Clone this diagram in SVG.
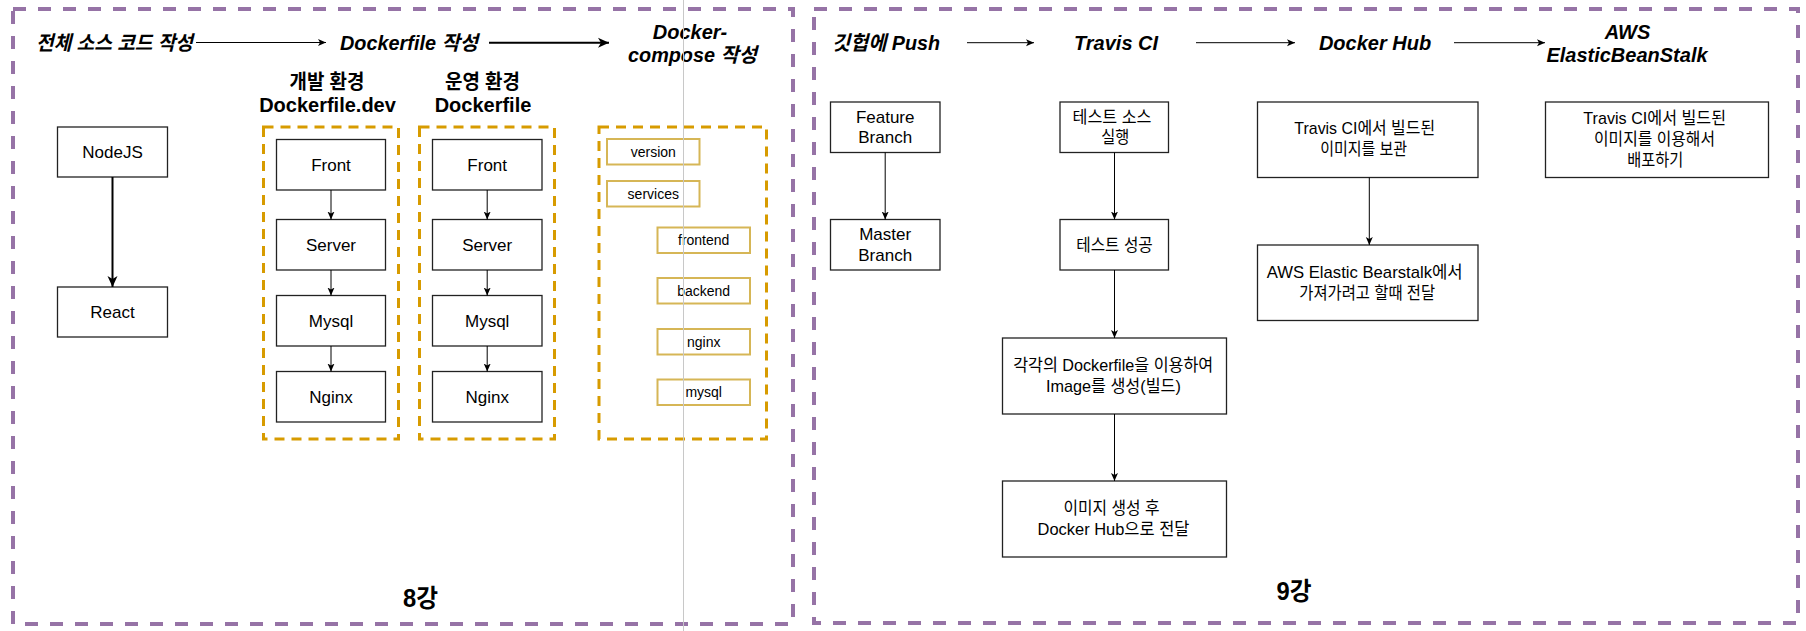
<svg xmlns="http://www.w3.org/2000/svg" width="1806" height="631" viewBox="0 0 1806 631">
<style>
.frame{fill:none;stroke:#9673a6;stroke-width:4;stroke-dasharray:13 12}
.grp{fill:none;stroke:#d79b00;stroke-width:3;stroke-dasharray:10 7}
.node{fill:#fff;stroke:#222;stroke-width:1.3}
.item{fill:#fff;stroke:#d6b656;stroke-width:2}
text{fill:#000;text-anchor:middle;font-family:"Liberation Sans","Noto Sans CJK KR",sans-serif}
.h{font-size:20px;font-weight:bold;font-style:italic}
.hb{font-size:20px;font-weight:bold}
.t{font-size:17px}
.s{font-size:14px}
.lec{font-size:25px;font-weight:bold}
.c{fill:none;stroke:#000;stroke-width:1}
.c2{fill:none;stroke:#000;stroke-width:2}
.guide{stroke:#c8c8c8;stroke-width:1}
</style>
<defs>
<marker id="a" markerUnits="userSpaceOnUse" markerWidth="8" markerHeight="8" viewBox="0 0 8 8" refX="8" refY="4" orient="auto"><path d="M0,0.5 L8,4 L0,7.5 L2,4 z" fill="#000"/></marker>
<marker id="ab" markerUnits="userSpaceOnUse" markerWidth="11" markerHeight="11" viewBox="0 0 11 11" refX="11" refY="5.5" orient="auto"><path d="M0,0.5 L11,5.5 L0,10.5 L3,5.5 z" fill="#000"/></marker>
</defs>
<rect width="1806" height="631" fill="#fff"/>

<g id="frame-8">
<rect class="frame" x="13" y="9" width="780" height="615"/>
<text class="lec" x="420.5" y="607" textLength="35" lengthAdjust="spacingAndGlyphs">8강</text>
</g>
<g id="frame-9">
<rect class="frame" x="814" y="9" width="984" height="614"/>
<text class="lec" x="1294" y="599.5" textLength="35" lengthAdjust="spacingAndGlyphs">9강</text>
</g>

<g id="h-source"><text class="h" x="114.5" y="50" textLength="157" lengthAdjust="spacingAndGlyphs">전체 소스 코드 작성</text></g>
<g id="h-dockerfile"><text class="h" x="409" y="50" textLength="138" lengthAdjust="spacingAndGlyphs">Dockerfile 작성</text></g>
<g id="h-compose"><text class="h" x="690" y="38.5">Docker-</text><text class="h" x="692.5" y="61.5" textLength="129" lengthAdjust="spacingAndGlyphs">compose 작성</text></g>

<g id="h-dev"><text class="hb" x="327" y="88.5" textLength="75" lengthAdjust="spacingAndGlyphs">개발 환경</text><text class="hb" x="327.5" y="111.5">Dockerfile.dev</text></g>
<g id="h-prod"><text class="hb" x="482.5" y="88.5" textLength="75" lengthAdjust="spacingAndGlyphs">운영 환경</text><text class="hb" x="483" y="111.5">Dockerfile</text></g>

<g id="nodejs"><rect class="node" x="57.5" y="127" width="110" height="50"/><text class="t" x="112.5" y="158">NodeJS</text></g>
<g id="react"><rect class="node" x="57.5" y="287" width="110" height="50"/><text class="t" x="112.5" y="318">React</text></g>

<g id="dev-group">
<rect class="grp" x="263.5" y="127" width="135" height="312"/>
<g id="dev-front"><rect class="node" x="276.5" y="139.5" width="109" height="50.5"/><text class="t" x="331" y="170.7">Front</text></g>
<g id="dev-server"><rect class="node" x="276.5" y="219.5" width="109" height="50.5"/><text class="t" x="331" y="250.7">Server</text></g>
<g id="dev-mysql"><rect class="node" x="276.5" y="295.5" width="109" height="50.5"/><text class="t" x="331" y="326.7">Mysql</text></g>
<g id="dev-nginx"><rect class="node" x="276.5" y="371.5" width="109" height="50.5"/><text class="t" x="331" y="402.7">Nginx</text></g>
</g>

<g id="prod-group">
<rect class="grp" x="419.5" y="127" width="135" height="312"/>
<g id="prod-front"><rect class="node" x="432.5" y="139.5" width="109.5" height="50.5"/><text class="t" x="487.2" y="170.7">Front</text></g>
<g id="prod-server"><rect class="node" x="432.5" y="219.5" width="109.5" height="50.5"/><text class="t" x="487.2" y="250.7">Server</text></g>
<g id="prod-mysql"><rect class="node" x="432.5" y="295.5" width="109.5" height="50.5"/><text class="t" x="487.2" y="326.7">Mysql</text></g>
<g id="prod-nginx"><rect class="node" x="432.5" y="371.5" width="109.5" height="50.5"/><text class="t" x="487.2" y="402.7">Nginx</text></g>
</g>

<g id="compose-group">
<rect class="grp" x="599" y="127" width="167.5" height="312"/>
<g id="c-version"><rect class="item" x="607" y="139" width="92.5" height="25.5"/><text class="s" x="653.3" y="156.7">version</text></g>
<g id="c-services"><rect class="item" x="607" y="181" width="92.5" height="25.5"/><text class="s" x="653.3" y="198.7">services</text></g>
<g id="c-frontend"><rect class="item" x="657.5" y="227.5" width="92.5" height="25.5"/><text class="s" x="703.7" y="245.2">frontend</text></g>
<g id="c-backend"><rect class="item" x="657.5" y="278" width="92.5" height="25.5"/><text class="s" x="703.7" y="295.7">backend</text></g>
<g id="c-nginx"><rect class="item" x="657.5" y="329" width="92.5" height="25.5"/><text class="s" x="703.7" y="346.7">nginx</text></g>
<g id="c-mysql"><rect class="item" x="657.5" y="379.5" width="92.5" height="25.5"/><text class="s" x="703.7" y="397.2">mysql</text></g>
</g>

<g id="h-push"><text class="h" x="886" y="50" textLength="108" lengthAdjust="spacingAndGlyphs">깃헙에 Push</text></g>
<g id="h-travis"><text class="h" x="1116" y="50">Travis CI</text></g>
<g id="h-hub"><text class="h" x="1375" y="50">Docker Hub</text></g>
<g id="h-aws"><text class="h" x="1627.5" y="39">AWS</text><text class="h" x="1627" y="62">ElasticBeanStalk</text></g>

<g id="feature"><rect class="node" x="830.5" y="102" width="109.5" height="50.5"/><text class="t" x="885.2" y="122.7">Feature</text><text class="t" x="885.2" y="143.3">Branch</text></g>
<g id="master"><rect class="node" x="830.5" y="219.5" width="109.5" height="50.5"/><text class="t" x="885.2" y="240.2">Master</text><text class="t" x="885.2" y="260.8">Branch</text></g>

<g id="test-run"><rect class="node" x="1060" y="102" width="108.5" height="50.5"/><text class="t" x="1112" y="122.7" textLength="79" lengthAdjust="spacingAndGlyphs">테스트 소스</text><text class="t" x="1115.2" y="142.7" textLength="28" lengthAdjust="spacingAndGlyphs">실행</text></g>
<g id="test-ok"><rect class="node" x="1060" y="219.5" width="108.5" height="50.5"/><text class="t" x="1114.5" y="250.7" textLength="76.5" lengthAdjust="spacingAndGlyphs">테스트 성공</text></g>
<g id="build"><rect class="node" x="1002.5" y="338" width="224" height="76"/><text class="t" x="1113.2" y="371" textLength="200" lengthAdjust="spacingAndGlyphs">각각의 Dockerfile을 이용하여</text><text class="t" x="1113.4" y="391.7" textLength="135" lengthAdjust="spacingAndGlyphs">Image를 생성(빌드)</text></g>
<g id="push-hub"><rect class="node" x="1002.5" y="481" width="224" height="76"/><text class="t" x="1111.5" y="514.3" textLength="96" lengthAdjust="spacingAndGlyphs">이미지 생성 후</text><text class="t" x="1113.5" y="535" textLength="152" lengthAdjust="spacingAndGlyphs">Docker Hub으로 전달</text></g>

<g id="hub-store"><rect class="node" x="1257.5" y="102" width="220.5" height="75.5"/><text class="t" x="1364.7" y="134.3" textLength="140.7" lengthAdjust="spacingAndGlyphs">Travis CI에서 빌드된</text><text class="t" x="1363.7" y="155" textLength="87" lengthAdjust="spacingAndGlyphs">이미지를 보관</text></g>
<g id="hub-send"><rect class="node" x="1257.5" y="245" width="220.5" height="75.5"/><text class="t" x="1364.7" y="278.3" textLength="196" lengthAdjust="spacingAndGlyphs">AWS Elastic Bearstalk에서</text><text class="t" x="1367.2" y="298.7" textLength="135.7" lengthAdjust="spacingAndGlyphs">가져가려고 할때 전달</text></g>

<g id="aws-deploy"><rect class="node" x="1545.5" y="102" width="223" height="75.5"/><text class="t" x="1654.7" y="124.3" textLength="142.7" lengthAdjust="spacingAndGlyphs">Travis CI에서 빌드된</text><text class="t" x="1654.5" y="145.3" textLength="121" lengthAdjust="spacingAndGlyphs">이미지를 이용해서</text><text class="t" x="1655.3" y="166" textLength="56" lengthAdjust="spacingAndGlyphs">배포하기</text></g>

<line class="guide" x1="683.5" y1="0" x2="683.5" y2="631"/>

<g id="connectors">
<line class="c" x1="196" y1="42.5" x2="326" y2="42.5" marker-end="url(#a)"/>
<line class="c2" x1="489" y1="42.7" x2="609" y2="42.7" marker-end="url(#ab)"/>
<line class="c" x1="967" y1="42.7" x2="1034" y2="42.7" marker-end="url(#a)"/>
<line class="c" x1="1196" y1="42.7" x2="1295" y2="42.7" marker-end="url(#a)"/>
<line class="c" x1="1454" y1="42.7" x2="1545" y2="42.7" marker-end="url(#a)"/>
<line class="c2" x1="112.5" y1="177" x2="112.5" y2="287" marker-end="url(#ab)"/>
<line class="c" x1="331" y1="190" x2="331" y2="219.5" marker-end="url(#a)"/>
<line class="c" x1="331" y1="270" x2="331" y2="295.5" marker-end="url(#a)"/>
<line class="c" x1="331" y1="346" x2="331" y2="371.5" marker-end="url(#a)"/>
<line class="c" x1="487.2" y1="190" x2="487.2" y2="219.5" marker-end="url(#a)"/>
<line class="c" x1="487.2" y1="270" x2="487.2" y2="295.5" marker-end="url(#a)"/>
<line class="c" x1="487.2" y1="346" x2="487.2" y2="371.5" marker-end="url(#a)"/>
<line class="c" x1="885.2" y1="152.5" x2="885.2" y2="219.5" marker-end="url(#a)"/>
<line class="c" x1="1114.5" y1="152.5" x2="1114.5" y2="219.5" marker-end="url(#a)"/>
<line class="c" x1="1114.5" y1="270" x2="1114.5" y2="338" marker-end="url(#a)"/>
<line class="c" x1="1114.5" y1="414" x2="1114.5" y2="481" marker-end="url(#a)"/>
<line class="c" x1="1369.3" y1="177.5" x2="1369.3" y2="245" marker-end="url(#a)"/>
</g>
</svg>
